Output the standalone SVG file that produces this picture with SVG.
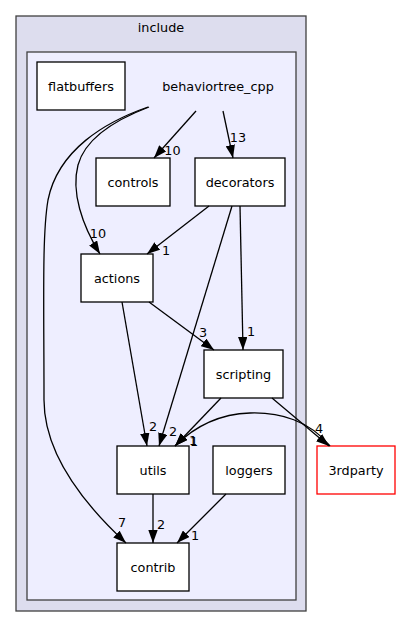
<svg xmlns="http://www.w3.org/2000/svg" width="400" height="628" viewBox="0 0 400 628">
<style>
text{font-family:"DejaVu Sans",sans-serif;font-size:12.8px;fill:#000;text-anchor:middle}
.node rect{fill:#fff;stroke:#000;stroke-width:1.3}
.edges path{fill:none;stroke:#000;stroke-width:1.3;marker-end:url(#a)}
</style>
<defs>
<marker id="a" viewBox="0 0 13 9.4" refX="13" refY="4.7" markerWidth="13" markerHeight="9.4" markerUnits="userSpaceOnUse" orient="auto">
<path d="M0,0 L13,4.7 L0,9.4 z" fill="#000"/>
</marker>
</defs>
<rect width="400" height="628" fill="#fff"/>
<g id="cluster_include">
<rect x="16" y="16" width="290" height="595" fill="#ddddee" stroke="#404040" stroke-width="1.3"/>
<text x="161" y="32">include</text>
</g>
<g id="cluster_behaviortree_cpp">
<rect x="27" y="52" width="269" height="548" fill="#eeeeff" stroke="#404040" stroke-width="1.3"/>
</g>
<g id="behaviortree_cpp">
<text x="218" y="90.5">behaviortree_cpp</text>
</g>
<g id="flatbuffers" class="node">
<rect x="37" y="62" width="88" height="48"/>
<text x="81" y="90.5">flatbuffers</text>
</g>
<g id="controls" class="node">
<rect x="96" y="158" width="74" height="48"/>
<text x="133" y="186.5">controls</text>
</g>
<g id="decorators" class="node">
<rect x="195" y="158" width="90" height="48"/>
<text x="240" y="186.5">decorators</text>
</g>
<g id="actions" class="node">
<rect x="81" y="254" width="72" height="48"/>
<text x="117" y="282.5">actions</text>
</g>
<g id="scripting" class="node">
<rect x="204" y="350" width="79" height="48"/>
<text x="243.5" y="378.5">scripting</text>
</g>
<g id="utils" class="node">
<rect x="117" y="446" width="72" height="48"/>
<text x="153" y="474.5">utils</text>
</g>
<g id="loggers" class="node">
<rect x="213" y="446" width="72" height="48"/>
<text x="249" y="474.5">loggers</text>
</g>
<g id="contrib" class="node">
<rect x="117" y="543" width="72" height="48"/>
<text x="153" y="571.5">contrib</text>
</g>
<g id="3rdparty" class="node">
<rect x="317" y="446" width="78" height="48" style="stroke:#ff0000"/>
<text x="356" y="474.5">3rdparty</text>
</g>
<g id="connectors" class="edges">
<path d="M196,111 L154,158"/>
<path d="M223,111 L233,158"/>
<path d="M149,107 C120,118 86,136 78,165 C71,192 82,225 100,254"/>
<path d="M148,107 C105,122 58,150 48,200 C42,235 44,300 44,400 C44,455 85,505 126,543"/>
<path d="M209,206 L147,254"/>
<path d="M232,206 L159,446"/>
<path d="M240,206 L243,350"/>
<path d="M149,302 L214,350"/>
<path d="M122,302 L147,446"/>
<path d="M221,398 L175,446"/>
<path d="M272,398 L329,446"/>
<path d="M330,446 C310,421 280,412 250,413 C220,414 195,426 175,446"/>
<path d="M153,494 L153,543"/>
<path d="M226,494 L177,543"/>
<text x="172.5" y="154.5">10</text>
<text x="238" y="142">13</text>
<text x="98" y="237.5">10</text>
<text x="166" y="254.5">1</text>
<text x="203" y="336.5">3</text>
<text x="251" y="335.5">1</text>
<text x="153" y="430.5">2</text>
<text x="173" y="435.5">2</text>
<text x="193" y="445">1</text>
<text x="194" y="446">1</text>
<text x="319" y="432.5">4</text>
<text x="122" y="526.5">7</text>
<text x="161" y="528.5">2</text>
<text x="195" y="539.5">1</text>
</g>
</svg>
